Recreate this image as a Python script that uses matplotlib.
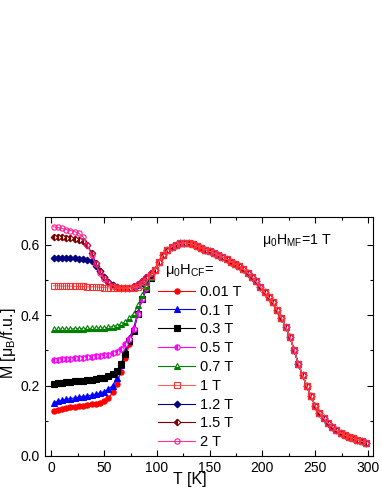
import matplotlib
matplotlib.use('Agg')
import matplotlib.pyplot as plt
import numpy as np

plt.rcParams['font.family'] = ['Liberation Sans', 'DejaVu Sans']
plt.rcParams['mathtext.fontset'] = 'custom'
plt.rcParams['mathtext.rm'] = 'Liberation Sans'
plt.rcParams['mathtext.it'] = 'Liberation Sans:italic'
plt.rcParams['mathtext.default'] = 'regular'

# temperature grid (K)
T_low = [2, 6, 10, 14, 18, 22, 26, 30, 34, 38, 42, 46, 50, 54, 58, 62, 66, 70, 74, 78, 82, 86, 90, 94]
T_high = [98, 102, 106, 110, 114, 118, 122, 126, 130, 134, 138, 142, 146, 150, 154, 158, 162, 166, 170,
          174, 178, 182, 186, 190, 194, 198, 202, 206, 210, 214, 218, 222, 226, 230, 234, 238, 242, 246,
          250, 254, 258, 262, 266, 270, 274, 278, 282, 286, 290, 294, 298]

# common part above ~95 K (all fields overlap)
M_high = [0.530, 0.553, 0.571, 0.585, 0.595, 0.601, 0.605, 0.606, 0.605, 0.602, 0.597, 0.592, 0.587,
          0.582, 0.577, 0.572, 0.566, 0.560, 0.553, 0.546, 0.539, 0.531, 0.521, 0.509, 0.497, 0.481,
          0.466, 0.451, 0.437, 0.414, 0.392, 0.367, 0.339, 0.302, 0.262, 0.230, 0.199, 0.170, 0.142,
          0.123, 0.108, 0.094, 0.083, 0.073, 0.066, 0.060, 0.055, 0.050, 0.046, 0.042, 0.038]

# low temperature parts, one per cooling field
M_001 = [0.128, 0.131, 0.134, 0.137, 0.139, 0.140, 0.142, 0.143, 0.145, 0.147, 0.149, 0.152, 0.156,
         0.164, 0.181, 0.205, 0.240, 0.278, 0.318, 0.354, 0.405, 0.445, 0.474, 0.505]
M_01 = [0.152, 0.155, 0.158, 0.161, 0.163, 0.165, 0.167, 0.169, 0.171, 0.173, 0.176, 0.179, 0.183,
        0.190, 0.200, 0.222, 0.258, 0.298, 0.336, 0.365, 0.410, 0.447, 0.476, 0.507]
M_03 = [0.205, 0.207, 0.208, 0.209, 0.211, 0.212, 0.213, 0.214, 0.216, 0.217, 0.219, 0.221, 0.223,
        0.227, 0.233, 0.243, 0.262, 0.290, 0.328, 0.356, 0.405, 0.447, 0.476, 0.507]
M_05 = [0.272, 0.274, 0.275, 0.276, 0.277, 0.278, 0.279, 0.280, 0.281, 0.282, 0.283, 0.284, 0.286,
        0.288, 0.292, 0.297, 0.305, 0.318, 0.333, 0.360, 0.405, 0.447, 0.477, 0.508]
M_07 = [0.360, 0.360, 0.361, 0.361, 0.361, 0.362, 0.362, 0.362, 0.363, 0.363, 0.363, 0.364, 0.364,
        0.366, 0.368, 0.371, 0.375, 0.381, 0.392, 0.405, 0.428, 0.458, 0.484, 0.508]
M_1 = [0.484, 0.484, 0.483, 0.483, 0.483, 0.482, 0.482, 0.482, 0.481, 0.481, 0.481, 0.480, 0.479,
       0.478, 0.477, 0.477, 0.477, 0.477, 0.477, 0.478, 0.481, 0.486, 0.494, 0.512]
M_12 = [0.564, 0.564, 0.563, 0.563, 0.562, 0.562, 0.561, 0.560, 0.558, 0.554, 0.541, 0.525, 0.508,
        0.495, 0.486, 0.481, 0.479, 0.478, 0.479, 0.481, 0.486, 0.493, 0.503, 0.515]
M_15 = [0.624, 0.623, 0.622, 0.621, 0.620, 0.618, 0.615, 0.610, 0.601, 0.578, 0.550, 0.526, 0.508,
        0.495, 0.486, 0.481, 0.479, 0.478, 0.479, 0.482, 0.488, 0.497, 0.508, 0.519]
M_2 = [0.652, 0.650, 0.647, 0.644, 0.641, 0.638, 0.633, 0.623, 0.600, 0.571, 0.545, 0.520, 0.503,
       0.492, 0.484, 0.481, 0.479, 0.478, 0.479, 0.482, 0.488, 0.497, 0.508, 0.519]

labels = ['0.01 T', '0.1 T', '0.3 T', '0.5 T', '0.7 T', '1 T', '1.2 T', '1.5 T', '2 T']
low_parts = [M_001, M_01, M_03, M_05, M_07, M_1, M_12, M_15, M_2]

colors = ['#ff0000', '#0000ff', '#000000', '#ff00ff', '#008000', '#ff3030', '#000080', '#800000', '#ff1a8c']
markers = ['o', '^', 's', 'o', '^', 's', 'D', 'D', 'o']
fills = ['full', 'full', 'full', 'left', 'bottom', 'none', 'full', 'left', 'none']
lcolors = ['#ff0000', '#0000ff', '#000000', '#ff00ff', '#008000', '#ff6060', '#000080', '#800000', '#ff3399']

T = np.array(T_low + T_high)

fig = plt.figure(figsize=(3.82, 4.94), dpi=100)
ax = fig.add_axes([0.118, 0.077, 0.859, 0.484])

for i in range(len(labels)):
    M = np.array(low_parts[i] + M_high)
    ms = 3.8 if markers[i] != 'D' else 3.4
    z = 3 if labels[i] == '1 T' else 2
    ax.plot(T, M, color=lcolors[i], lw=0.8, marker=markers[i], ms=ms,
            mec=colors[i], mfc=colors[i] if fills[i] != 'none' else 'white',
            fillstyle=fills[i], markerfacecoloralt='white', mew=0.8,
            label=labels[i], zorder=z)

ax.set_xlim(-6, 305)
ax.set_ylim(0, 0.68)
ax.set_xticks([0, 50, 100, 150, 200, 250, 300])
ax.set_xticks(np.arange(25, 300, 50), minor=True)
ax.set_yticks([0.0, 0.2, 0.4, 0.6])
ax.set_yticklabels(['0.0', '0.2', '0.4', '0.6'])
ax.set_yticks([0.1, 0.3, 0.5], minor=True)
ax.tick_params(which='both', direction='in', top=True, right=True, labelsize=10, width=0.8)
ax.tick_params(which='major', length=4.5)
ax.tick_params(which='minor', length=2.5)
for s in ax.spines.values():
    s.set_linewidth(0.8)

ax.set_xlabel('T [K]', fontsize=11.5)
ax.set_ylabel(r'M [$\mu_B$/f.u.]', fontsize=11.5)
ax.xaxis.set_label_coords(0.44, -0.068)
ax.yaxis.set_label_coords(-0.082, 0.47)

ax.text(200, 0.612, r'$\mu_0H_{MF}$=1 T', fontsize=10.2, ha='left', va='center')
ax.text(107.5, 0.527, r'$\mu_0H_{CF}$=', fontsize=10.5, ha='left', va='center')

leg = ax.legend(loc='upper left', bbox_to_anchor=(0.344, 0.716),
                frameon=False, fontsize=10.5, numpoints=1,
                handlelength=2.55, handletextpad=0.3, labelspacing=0.33, borderpad=0,
                borderaxespad=0)

plt.savefig('out.png', dpi=100)
